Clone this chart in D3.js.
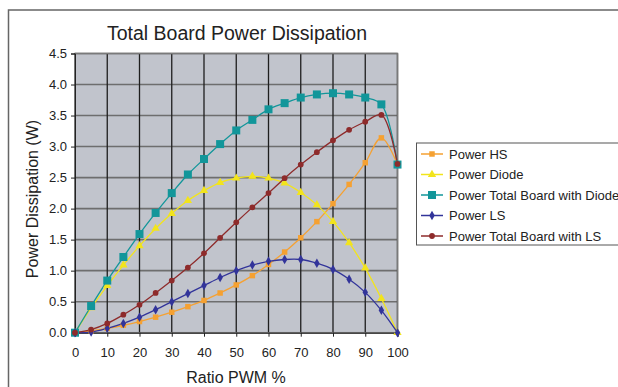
<!DOCTYPE html>
<html><head><meta charset="utf-8">
<script src="https://cdn.jsdelivr.net/npm/d3@7"></script>
<style>body{margin:0;background:#fff}svg{display:block;font-family:"Liberation Sans",Arial,sans-serif}</style>
</head><body>
<svg id="c" width="618" height="387"></svg>
<script>
const ratio = [0,5,10,15,20,25,30,35,40,45,50,55,60,65,70,75,80,85,90,95,100];
const powerHS = [0,0.03,0.07,0.12,0.18,0.25,0.33,0.42,0.52,0.64,0.77,0.92,1.10,1.30,1.53,1.79,2.08,2.39,2.74,3.14,2.71];
const powerDiode = [0,0.40,0.76,1.09,1.40,1.68,1.92,2.13,2.29,2.42,2.49,2.52,2.49,2.41,2.26,2.06,1.79,1.45,1.04,0.55,0];
const totalDiode = [0,0.43,0.84,1.22,1.59,1.93,2.25,2.55,2.80,3.04,3.26,3.43,3.60,3.70,3.79,3.84,3.86,3.84,3.79,3.68,2.71];
const powerLS = [0,0.01,0.07,0.15,0.25,0.37,0.50,0.63,0.76,0.89,1.00,1.09,1.15,1.18,1.18,1.12,1.02,0.86,0.65,0.36,0];
const totalLS = [0,0.05,0.15,0.29,0.45,0.64,0.84,1.05,1.28,1.53,1.78,2.02,2.25,2.49,2.71,2.91,3.10,3.27,3.40,3.51,2.72];
const xTicks = [0,10,20,30,40,50,60,70,80,90,100];
const yTicks = [0,0.5,1,1.5,2,2.5,3,3.5,4,4.5];
const seriesNames = ["Power HS","Power Diode","Power Total Board with Diode","Power LS","Power Total Board with LS"];

const series = [
  {name:seriesNames[0], values:powerHS, color:"#F5A132", sym:"square", size:30},
  {name:seriesNames[1], values:powerDiode, color:"#F2E41C", sym:"triangle", size:30},
  {name:seriesNames[2], values:totalDiode, color:"#12969A", sym:"square", size:64},
  {name:seriesNames[3], values:powerLS, color:"#32349A", sym:"diamond", size:26},
  {name:seriesNames[4], values:totalLS, color:"#8E2B2B", sym:"circle", size:26}
];
const symMap = {square:d3.symbolSquare, triangle:d3.symbolTriangle, diamond:d3.symbolDiamond, circle:d3.symbolCircle};

const svg = d3.select("#c");
// outer chart frame
svg.append("rect").attr("x",8.5).attr("y",10).attr("width",700).attr("height",500)
  .attr("fill","#fff").attr("stroke","#666").attr("stroke-width",1.5);

const L=75, R=397.5, T=53.5, B=332.7;
const x = d3.scaleLinear().domain([0,100]).range([L,R]);
const y = d3.scaleLinear().domain([0,4.5]).range([B,T]);

svg.append("rect").attr("x",L).attr("y",T).attr("width",R-L).attr("height",B-T).attr("fill","#C1C4CC");

// grid
const g = svg.append("g");
g.selectAll(".hg").data(yTicks).join("line")
  .attr("x1",L).attr("x2",R).attr("y1",d=>y(d)).attr("y2",d=>y(d))
  .attr("stroke","#6e6e6e").attr("stroke-width",1.6);
g.selectAll(".vg").data(xTicks).join("line")
  .attr("y1",T).attr("y2",B).attr("x1",d=>x(d)).attr("x2",d=>x(d))
  .attr("stroke","#1e1e1e").attr("stroke-width",1.3);
svg.append("rect").attr("x",L).attr("y",T).attr("width",R-L).attr("height",B-T)
  .attr("fill","none").attr("stroke","#7a7a7a").attr("stroke-width",1.5);

// axes
const xAxis = svg.append("g").attr("transform",`translate(0,${B})`)
  .call(d3.axisBottom(x).tickValues(xTicks).tickSize(4).tickPadding(11));
const yAxis = svg.append("g").attr("transform",`translate(${L},0)`)
  .call(d3.axisLeft(y).tickValues(yTicks).tickFormat(d3.format(".1f")).tickSize(4).tickPadding(4));
[xAxis,yAxis].forEach(a=>{
  a.select(".domain").attr("stroke","#222");
  a.selectAll(".tick line").attr("stroke","#222");
  a.selectAll("text").attr("font-size",13).attr("fill","#222").attr("font-family","Liberation Sans, Arial, sans-serif");
});

// lines
const line = d3.line().x((d,i)=>x(ratio[i])).y(d=>y(d)).curve(d3.curveCatmullRom.alpha(0.5));
series.forEach(s=>{
  svg.append("path").attr("d",line(s.values)).attr("fill","none").attr("stroke",s.color).attr("stroke-width",1.3);
});
series.forEach(s=>{
  const sym = d3.symbol().type(symMap[s.sym]).size(s.size);
  svg.append("g").selectAll("path").data(s.values).join("path")
    .attr("transform",(d,i)=>`translate(${x(ratio[i])},${y(d)})`)
    .attr("d",sym).attr("fill",s.color);
});

// titles
svg.append("text").attr("x",237).attr("y",40).attr("text-anchor","middle")
  .attr("font-size",19.5).attr("fill","#222").text("Total Board Power Dissipation");
svg.append("text").attr("x",236).attr("y",383).attr("text-anchor","middle")
  .attr("font-size",16).attr("fill","#222").text("Ratio PWM %");
svg.append("text").attr("transform","translate(38,199) rotate(-90)").attr("text-anchor","middle")
  .attr("font-size",16).attr("fill","#222").text("Power Dissipation (W)");

// legend
const lg = svg.append("g");
lg.append("rect").attr("x",416.5).attr("y",143).attr("width",260).attr("height",102)
  .attr("fill","#fff").attr("stroke","#555").attr("stroke-width",1);
series.forEach((s,i)=>{
  const yy = 154 + i*20.5;
  lg.append("line").attr("x1",421).attr("x2",443).attr("y1",yy).attr("y2",yy).attr("stroke",s.color).attr("stroke-width",1.5);
  lg.append("path").attr("transform",`translate(432,${yy})`).attr("d",d3.symbol().type(symMap[s.sym]).size(s.size)).attr("fill",s.color);
  lg.append("text").attr("x",449).attr("y",yy+4.5).attr("font-size",13).attr("fill","#222").text(s.name);
});
</script>
</body></html>
